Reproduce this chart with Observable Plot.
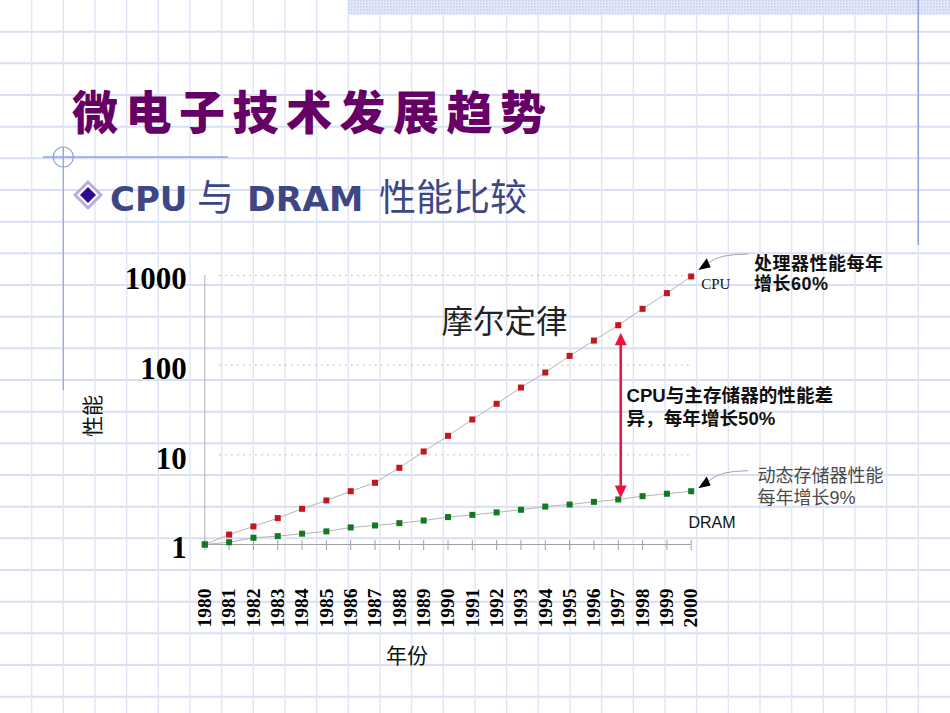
<!DOCTYPE html>
<html lang="zh">
<head>
<meta charset="utf-8">
<title>微电子技术发展趋势</title>
<script src="https://cdn.jsdelivr.net/npm/d3@7"></script>
<script src="https://cdn.jsdelivr.net/npm/@observablehq/plot@0.6"></script>
<style>
  html, body { margin: 0; padding: 0; background: #fff; }
  #slide { position: relative; width: 950px; height: 713px; overflow: hidden; background: #fff; }
  #slide > svg { position: absolute; left: 0; top: 0; }
  #texts { pointer-events: none; }
  .cjk { font-family: "Noto Sans CJK SC", sans-serif; }
  .head { font-family: "DejaVu Sans", Verdana, sans-serif; }
  .mix { font-family: "Liberation Sans", Arial, "Noto Sans CJK SC", sans-serif; }
  #chart g[aria-label="y-axis tick label"] text { font-family: "Liberation Serif", "Times New Roman", serif; font-weight: bold; }
  #chart g[aria-label="x-axis tick label"] text { font-family: "Liberation Serif", "Times New Roman", serif; font-weight: bold; }
</style>
</head>
<body>
<div id="slide">
  <svg id="decor" width="950" height="713">
    <defs>
      <pattern id="bandDots" width="3" height="3" patternUnits="userSpaceOnUse">
        <rect width="3" height="3" fill="#e3e8f9"></rect>
        <rect width="1.5" height="1.5" fill="#c6d0f0"></rect>
      </pattern>
    </defs>
    <g id="paperGrid"></g>
    <rect x="348" y="0" width="602" height="15" fill="url(#bandDots)"></rect>
    <line x1="918.3" y1="0" x2="918.3" y2="245" stroke="#8b9ddf" stroke-width="1.5"></line>
    <line x1="43" y1="157" x2="228" y2="157" stroke="#8fa1e0" stroke-width="1.5"></line>
    <circle cx="63.3" cy="157" r="10" fill="none" stroke="#8fa1e0" stroke-width="1.2"></circle>
    <line x1="63.3" y1="147" x2="63.3" y2="390" stroke="#8fa1e0" stroke-width="1.2"></line>
    <!-- bullet diamond -->
    <path d="M88,180 L103,195 L88,210 L73,195 Z" fill="#b9acdf"></path>
    <path d="M88,184 L99,195 L88,206 L77,195 Z" fill="#ffffff"></path>
    <path d="M88,187 L96,195 L88,203 L80,195 Z" fill="#2c0893"></path>
  </svg>
  <div id="chartHolder"></div>
  <svg id="texts" width="950" height="713">
    <text x="72" y="129" class="cjk" font-size="46" font-weight="900" letter-spacing="7.5" fill="#660066">微电子技术发展趋势</text>

    <g fill="#3d4784">
      <text x="110" y="211" class="head" font-size="34" font-weight="bold">CPU</text>
      <text x="197" y="211" class="cjk" font-size="37">与</text>
      <text x="247" y="211" class="head" font-size="34.5" font-weight="bold">DRAM</text>
      <text x="379" y="211" class="cjk" font-size="37">性能比较</text>
    </g>

    <text x="441.5" y="333" class="cjk" font-size="31.5" fill="#222">摩尔定律</text>

    <text class="mix" font-size="18" font-weight="bold" fill="#111" letter-spacing="0.5">
      <tspan x="754" y="269.5">处理器性能每年</tspan>
      <tspan x="754" y="290">增长60%</tspan>
    </text>
    <text class="mix" font-size="18.6" font-weight="bold" fill="#111">
      <tspan x="626.5" y="402">CPU与主存储器的性能差</tspan>
      <tspan x="626.5" y="424.5">异，每年增长50%</tspan>
    </text>
    <text class="mix" font-size="18" fill="#4a4a4a">
      <tspan x="757.5" y="481.5">动态存储器性能</tspan>
      <tspan x="757.5" y="504">每年增长9%</tspan>
    </text>

    <text class="cjk" font-size="21" fill="#111" text-anchor="middle" transform="translate(100,416) rotate(-90)">性能</text>
    <text x="407" y="663" class="cjk" font-size="21" fill="#111" text-anchor="middle">年份</text>
  </svg>
</div>
<script>
// Relative performance (1980 = 1), one value per year
const years    = [1980, 1981, 1982, 1983, 1984, 1985, 1986, 1987, 1988, 1989, 1990,
                  1991, 1992, 1993, 1994, 1995, 1996, 1997, 1998, 1999, 2000];
const cpuPerf  = [1, 1.29, 1.59, 1.97, 2.5, 3.1, 3.93, 4.88, 7.17, 10.9, 16.3,
                  24.8, 37.1, 56.3, 82.8, 127, 188, 279, 425, 635, 975];
const dramPerf = [1, 1.06, 1.19, 1.24, 1.32, 1.40, 1.55, 1.63, 1.73, 1.85, 2.02,
                  2.14, 2.28, 2.44, 2.65, 2.79, 2.99, 3.18, 3.46, 3.68, 3.93];
const perfTicks = [1, 10, 100, 1000];
const seriesLabels = ["CPU", "DRAM"];
const gapYear = 1997;   // year where the CPU–DRAM gap is marked

const cpuColor = "#c4161c";
const dramColor = "#127a1e";
const gapColor = "#e8163c";

// squared-paper background of the slide
(function drawPaper() {
  const g = d3.select("#paperGrid");
  const step = 950 / 30;
  for (let k = 1; k < 23; k++) {
    g.append("line").attr("x1", 0).attr("x2", 950).attr("y1", k * step).attr("y2", k * step)
      .attr("stroke", "#d8dff5").attr("stroke-width", 2);
  }
  for (let k = 1; k < 30; k++) {
    g.append("line").attr("y1", 0).attr("y2", 713).attr("x1", k * step).attr("x2", k * step)
      .attr("stroke", "#dfe5f7").attr("stroke-width", 1.4);
  }
})();

const rows = years.map((year, i) => ({year, cpu: cpuPerf[i], dram: dramPerf[i]}));
const last = rows[rows.length - 1];
const gap = rows.find(d => d.year === gapYear);

// double-headed gap arrow and the pointers from the side notes to each series
function annotations(index, scales) {
  const {x, y} = scales;
  const g = d3.create("svg:g");

  const ax = x(gap.year) + 3;
  const top = y(gap.cpu) + 8;
  const bot = y(gap.dram) - 1;
  const head = 12.5, half = 6;
  g.append("line").attr("x1", ax).attr("x2", ax)
    .attr("y1", top + head - 1).attr("y2", bot - head + 1)
    .attr("stroke", gapColor).attr("stroke-width", 2.6);
  g.append("path").attr("fill", gapColor)
    .attr("d", `M ${ax} ${top} L ${ax - half} ${top + head} L ${ax + half} ${top + head} Z`);
  g.append("path").attr("fill", gapColor)
    .attr("d", `M ${ax} ${bot} L ${ax - half} ${bot - head} L ${ax + half} ${bot - head} Z`);

  const pointers = [
    {px: x(last.year), py: y(last.cpu), tipDy: -6, endDy: -22},
    {px: x(last.year), py: y(last.dram), tipDy: -2.4, endDy: -20}
  ];
  for (const p of pointers) {
    const tx = p.px + 7.6, ty = p.py + p.tipDy;
    const bx = tx + 10.4, by = ty - 7.2;
    const ex = p.px + 57.6, ey = p.py + p.endDy;
    g.append("path").attr("fill", "none").attr("stroke", "#a3a3a3").attr("stroke-width", 1)
      .attr("d", `M ${bx} ${by} Q ${bx + 10} ${ey} ${ex} ${ey}`);
    g.append("path").attr("fill", "#000")
      .attr("d", `M ${tx} ${ty} L ${tx + 8.4} ${ty - 11.7} L ${tx + 12.4} ${ty - 2.7} Z`);
  }
  return g.node();
}

const serif = "Liberation Serif, Times New Roman, serif";

const chart = Plot.plot({
  width: 950,
  height: 713,
  marginLeft: 204.3,
  marginRight: 259.3,
  marginTop: 275,
  marginBottom: 169,
  x: {domain: [years[0], years[years.length - 1]]},
  y: {type: "log", domain: [perfTicks[0], perfTicks[perfTicks.length - 1]]},
  style: {background: "transparent", overflow: "visible", color: "#000"},
  marks: [
    Plot.ruleY(perfTicks.slice(1), {y: d => d, stroke: "#9c9c9c", strokeDasharray: "1.2 4.8", insetLeft: 15}),
    Plot.ruleX([years[0]], {x: d => d, stroke: "#b3b3b3"}),
    Plot.ruleY([perfTicks[0]], {y: d => d, stroke: "#a0a0a0"}),
    Plot.tickX(years, {x: d => d, stroke: "#a0a0a0", insetTop: 265, insetBottom: -6}),
    Plot.axisY({ticks: perfTicks, tickFormat: d => String(d), tickSize: 0, tickPadding: 18, dy: 4,
                fontSize: 31, fontWeight: "bold", fontFamily: serif, fill: "#000", label: null}),
    Plot.axisX({ticks: years, tickFormat: d => String(d), tickRotate: -90, tickSize: 0, tickPadding: 44,
                fontSize: 19.5, fontWeight: "bold", fontFamily: serif, fill: "#000", label: null}),
    Plot.line(rows, {x: "year", y: "cpu", stroke: "#b4b4b4", strokeWidth: 1}),
    Plot.line(rows, {x: "year", y: "dram", stroke: "#b4b4b4", strokeWidth: 1}),
    Plot.dot(rows, {x: "year", y: "cpu", symbol: "square", r: 3.4, fill: cpuColor}),
    Plot.dot(rows, {x: "year", y: "dram", symbol: "square", r: 3.4, fill: dramColor}),
    Plot.text([last], {x: "year", y: "cpu", text: () => seriesLabels[0], textAnchor: "start",
                       dx: 10, dy: 8, fontFamily: serif, fontSize: 15, fill: "#111"}),
    Plot.text([last], {x: "year", y: "dram", text: () => seriesLabels[1], textAnchor: "start",
                       dx: -2.7, dy: 32, fontFamily: "Liberation Sans, Arial, sans-serif", fontSize: 16, fill: "#111"}),
    annotations
  ]
});
chart.id = "chart";
document.getElementById("chartHolder").replaceWith(chart);
</script>
</body>
</html>
